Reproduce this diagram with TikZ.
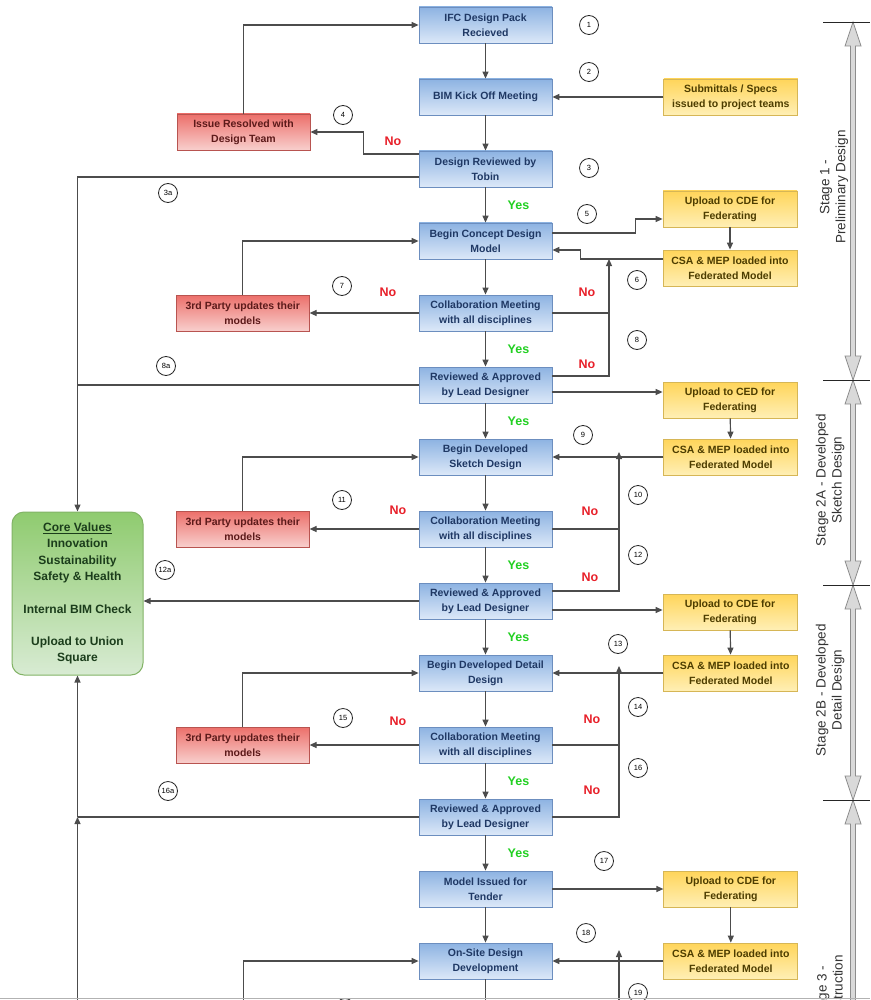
\documentclass[tikz,border=0pt]{standalone}
\usepackage{fontspec}
\setmainfont{Liberation Sans}
\usetikzlibrary{positioning,calc,arrows.meta}

\definecolor{bluetop}{HTML}{8DB3E2}
\definecolor{bluebot}{HTML}{DCE8F8}
\definecolor{blueline}{HTML}{6C8EBF}
\definecolor{bluetext}{HTML}{1F3864}
\definecolor{redtop}{HTML}{EC6F6A}
\definecolor{redbot}{HTML}{F8CFCD}
\definecolor{redline}{HTML}{B85450}
\definecolor{redtext}{HTML}{5C1A1A}
\definecolor{yeltop}{HTML}{FFD55A}
\definecolor{yelbot}{HTML}{FFEFB5}
\definecolor{yelline}{HTML}{D6B656}
\definecolor{yeltext}{HTML}{4D3D00}
\definecolor{grntop}{HTML}{8FCB6F}
\definecolor{grnbot}{HTML}{D8EBD3}
\definecolor{grnline}{HTML}{82B366}
\definecolor{grntext}{HTML}{1B3D1B}
\definecolor{yesgreen}{HTML}{22D022}
\definecolor{nored}{HTML}{E8202A}

\begin{document}
\begin{tikzpicture}[x=1pt,y=-1pt,
  box/.style={minimum width=133pt,minimum height=36pt,inner sep=1pt,align=center,line width=0.8pt,
    font=\bfseries\fontsize{10.5}{15}\selectfont},
  bluebox/.style={box,draw=blueline,top color=bluetop,bottom color=bluebot,text=bluetext},
  redbox/.style={box,draw=redline,top color=redtop,bottom color=redbot,text=redtext},
  yelbox/.style={box,minimum width=134pt,draw=yelline,top color=yeltop,bottom color=yelbot,text=yeltext},
  corebox/.style={minimum width=131pt,minimum height=163pt,rounded corners=12pt,align=center,line width=1pt,
    draw=grnline,top color=grntop,bottom color=grnbot,text=grntext,font=\bfseries\fontsize{12}{16.4}\selectfont},
  flow/.style={line width=1.2pt,draw=black!70},
  >={Triangle[length=7pt,width=6pt]},
  stepno/.style={circle,draw=black!85,line width=0.8pt,minimum size=19pt,inner sep=0pt,font=\fontsize{7.5}{8}\selectfont},
  yes/.style={text=yesgreen,font=\bfseries\fontsize{12.5}{13}\selectfont},
  no/.style={text=nored,font=\bfseries\fontsize{12.5}{13}\selectfont},
  stagetext/.style={rotate=90,align=center,text=black!80,font=\fontsize{13.5}{16}\selectfont},
  stagebar/.style={fill=black!15,draw=black!45,line width=0.8pt}]

\useasboundingbox (0,0) rectangle (870,1000);
\clip (0,0) rectangle (870,1000);
\fill[white] (0,0) rectangle (870,1000);

%%% MAIN COLUMN %%%
\node[bluebox] (ifc) at (485.5,25) {IFC Design Pack\\Recieved};
\node[bluebox,below=35.2pt of ifc] (kick) {BIM Kick Off Meeting};
\node[bluebox,below=35.2pt of kick] (tobin) {Design Reviewed by\\Tobin};
\node[bluebox,below=35.2pt of tobin] (concept) {Begin Concept Design\\Model};
\node[bluebox,below=35.2pt of concept] (collabA) {Collaboration Meeting\\with all disciplines};
\node[bluebox,below=35.2pt of collabA] (reviewA) {Reviewed \& Approved\\by Lead Designer};
\node[bluebox,below=35.2pt of reviewA] (sketch) {Begin Developed\\Sketch Design};
\node[bluebox,below=35.2pt of sketch] (collabB) {Collaboration Meeting\\with all disciplines};
\node[bluebox,below=35.2pt of collabB] (reviewB) {Reviewed \& Approved\\by Lead Designer};
\node[bluebox,below=35.2pt of reviewB] (detail) {Begin Developed Detail\\Design};
\node[bluebox,below=35.2pt of detail] (collabC) {Collaboration Meeting\\with all disciplines};
\node[bluebox,below=35.2pt of collabC] (reviewC) {Reviewed \& Approved\\by Lead Designer};
\node[bluebox,below=35.2pt of reviewC] (tender) {Model Issued for\\Tender};
\node[bluebox,below=35.2pt of tender] (onsite) {On-Site Design\\Development};

%%% LEFT SIDE %%%
\node[redbox] (issue) at (243.5,132) {Issue Resolved with\\Design Team};
\node[redbox,left=109pt of collabA] (partyA) {3rd Party updates their\\models};
\node[redbox,left=109pt of collabB] (partyB) {3rd Party updates their\\models};
\node[redbox,left=109pt of collabC] (partyC) {3rd Party updates their\\models};
\node[corebox] (core) at (77.5,593.5) {\underline{Core Values}\\Innovation\\Sustainability\\Safety \& Health\\[16pt]Internal BIM Check\\[16pt]Upload to Union\\Square};

%%% RIGHT SIDE %%%
\node[yelbox,right=111pt of kick] (subm) {Submittals / Specs\\issued to project teams};
\node[yelbox] (uploadA) at (730,209) {Upload to CDE for\\Federating};
\node[yelbox] (loadA) at (730,268) {CSA \& MEP loaded into\\Federated Model};
\node[yelbox] (uploadB) at (730,400) {Upload to CED for\\Federating};
\node[yelbox,right=111pt of sketch] (loadB) {CSA \& MEP loaded into\\Federated Model};
\node[yelbox] (uploadC) at (730,612) {Upload to CDE for\\Federating};
\node[yelbox,right=111pt of detail] (loadC) {CSA \& MEP loaded into\\Federated Model};
\node[yelbox,right=111pt of tender] (uploadD) {Upload to CDE for\\Federating};
\node[yelbox,right=111pt of onsite] (loadD) {CSA \& MEP loaded into\\Federated Model};

\coordinate (jA) at (609,259);
\coordinate (jB) at (619,452);
\coordinate (jC) at (619,666);
\coordinate (jD) at (619,950);
\coordinate (botA) at (77.5,1010);
\coordinate (botB) at (243.5,1010);
\coordinate (botC) at (619,1010);
\coordinate (botD) at (485.5,1010);

%%% CONNECTORS %%%
\foreach \a/\b in {ifc/kick,kick/tobin,tobin/concept,concept/collabA,collabA/reviewA,reviewA/sketch,sketch/collabB,
  collabB/reviewB,reviewB/detail,detail/collabC,collabC/reviewC,reviewC/tender,tender/onsite}
  \draw[flow,->] (\a) -- (\b);
\draw[flow] (onsite.south) -- (botD);

\draw[flow,->] ([yshift=15pt]tobin.west) -- ++(-55,0) |- (issue.east);
\draw[flow,->] (issue.north) |- (ifc.west);
\draw[flow,->] ([yshift=-8pt]tobin.west) -| (core.north);
\draw[flow] (reviewA.west) -- (reviewA.west -| core.north);
\draw[flow,->] (reviewB.west) -- (reviewB.west -| core.east);
\draw[flow] (reviewC.west) -- (reviewC.west -| core.south);
\draw[flow,->] (botA) -- (reviewC.west -| core.south);
\draw[flow,->] (reviewC.west -| core.south) -- (core.south);

\foreach \c/\p/\b in {collabA/partyA/concept,collabB/partyB/sketch,collabC/partyC/detail}{
  \draw[flow,->] (\c.west) -- (\p.east);
  \draw[flow,->] (\p.north) |- (\b.west);
}
\draw[flow,->] (botB) |- (onsite.west);

\draw[flow,->] (subm.west) -- (kick.east);
\foreach \u/\l in {uploadA/loadA,uploadB/loadB,uploadC/loadC,uploadD/loadD}
  \draw[flow,->] (\u) -- (\l);

% stage 1
\draw[flow,->] ([yshift=8pt]concept.east) -- ++(83,0) |- ([yshift=-10pt]uploadA.west);
\draw[flow,->] ([yshift=9pt]loadA.west) -- ++(-82,0) |- ([yshift=-9pt]concept.east);
\draw[flow] (collabA.east) -- (collabA.east -| jA);
\draw[flow,->] ([yshift=9pt]reviewA.east) -| (jA);
\draw[flow,->] ([yshift=-7pt]reviewA.east) -- ([yshift=-7pt]reviewA.east -| uploadB.west);
% stage 2A
\draw[flow,->] (loadB.west) -- (sketch.east);
\draw[flow] (collabB.east) -- (collabB.east -| jB);
\draw[flow,->] ([yshift=10pt]reviewB.east) -| (jB);
\draw[flow,->] ([yshift=-9pt]reviewB.east) -- ([yshift=-9pt]reviewB.east -| uploadC.west);
% stage 2B
\draw[flow,->] (loadC.west) -- (detail.east);
\draw[flow] (collabC.east) -- (collabC.east -| jC);
\draw[flow,->] (reviewC.east) -| (jC);
% stage 3
\draw[flow,->] (tender.east) -- (uploadD.west);
\draw[flow,->] (loadD.west) -- (onsite.east);
\draw[flow,->] (botC) -- (jD);

%%% LABELS %%%
\foreach \a/\b [count=\i] in {tobin/concept,collabA/reviewA,reviewA/sketch,collabB/reviewB,reviewB/detail,collabC/reviewC,reviewC/tender}
  \node[yes] (yes\i) at ($(\a.south)!.5!(\b.north)+(33,0)$) {Yes};
\foreach \px/\py [count=\i] in {393/141,388/292,398/510,398/721,587/292,587/364,590/511,590/577,592/719,592/790}
  \node[no] (no\i) at (\px,\py) {No};

\foreach \t/\px/\py in {1/589/25,2/589/72,3/589/168,4/343/115,3a/168/193,5/587/214,6/637/280,7/342/286,
  8/637/340,8a/166/366,9/583/435,10/638/495,11/342/500,12/638/555,12a/165/570,13/618/644,14/638/707,
  15/343/718,16/638/768,16a/168/791,17/604/861,18/586/933,19/638/993}
  \node[stepno] (n\t) at (\px,\py) {\t};
\node[stepno] (n20) at (345,1008) {};

%%% STAGES %%%
\foreach \ya/\yb in {22/380,380/585,585/800,800/1110}
  \draw[stagebar] (853,\ya) -- (861,\ya+24) -- (855.5,\ya+24) -- (855.5,\yb-24) -- (861,\yb-24) -- (853,\yb)
    -- (845,\yb-24) -- (850.5,\yb-24) -- (850.5,\ya+24) -- (845,\ya+24) -- cycle;
\foreach \yt in {22,380,585,800}
  \draw[black!85,line width=0.8pt] (823,\yt) -- (870,\yt);
\node[stagetext] (stageA) at (834,187) {Stage 1 -\\Preliminary Design};
\node[stagetext] (stageB) at (830,480) {Stage 2A - Developed\\Sketch Design};
\node[stagetext] (stageC) at (830,690) {Stage 2B - Developed\\Detail Design};
\node[stagetext] (stageD) at (830,993) {Stage 3 -\\Construction};

\draw[black!30,line width=1.5pt] (0,998.5) -- (870,998.5);
\end{tikzpicture}
\end{document}
